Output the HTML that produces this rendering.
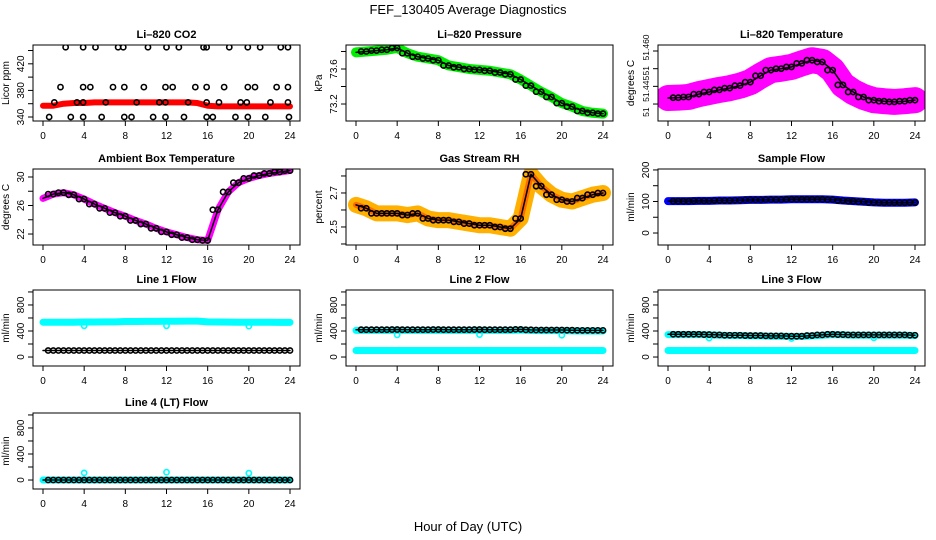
<!DOCTYPE html>
<html><head><meta charset="utf-8"><style>
html,body{margin:0;padding:0;background:#fff;}
svg{display:block;font-family:"Liberation Sans",Arial,sans-serif;}
</style></head><body>
<svg id="c" width="936" height="540" viewBox="0 0 936 540">
<text x="468" y="14" text-anchor="middle" font-size="13">FEF_130405  Average Diagnostics</text>
<text x="468" y="531" text-anchor="middle" font-size="13">Hour of Day (UTC)</text>
</svg>
<script>
const hours = [0,1,2,3,4,5,6,7,8,9,10,11,12,13,14,15,16,17,18,19,20,21,22,23,24];
const xTicks = [0,4,8,12,16,20,24];
// CO2
const co2Band = [357,357,360,361,361,362,362,362,362,362,362,362,362,362,362,361,357,356,356,356,356,356,356,356,356];
const co2PtT = [2.2,3.9,5.1,7.3,7.8,10.2,12,13.2,15.6,15.9,18.1,19.9,21.1,23.1,23.8,
 1.7,3.9,4.6,6.8,7.9,9.8,11.9,12.6,14.8,15.9,17.6,19.9,20.6,22.7,23.8,
 1.1,3.3,3.9,6.1,9.1,11.3,11.9,14.1,15.9,17.1,19.2,19.8,22.1,23.8,
 0.6,2.7,3.9,5.7,7.9,8.6,10.7,11.9,13.7,15.9,16.5,18.7,19.9,21.6,23.9];
const co2PtV = [445,445,445,445,445,445,445,445,445,445,445,445,445,445,445,
 385,385,385,385,385,385,385,385,385,385,385,385,385,385,385,
 362,362,362,362,362,362,362,362,362,362,362,362,362,362,
 340,340,340,340,340,340,340,340,340,340,340,340,340,340,340];
// Pressure
const pres = [73.79,73.80,73.81,73.82,73.84,73.78,73.74,73.72,73.70,73.64,73.62,73.60,73.59,73.58,73.56,73.54,73.48,73.41,73.34,73.28,73.21,73.17,73.12,73.10,73.09];
// Li-820 temperature
const ltemp = [51.4417,51.4418,51.4420,51.4428,51.4434,51.4440,51.4445,51.4452,51.4462,51.4480,51.4496,51.4500,51.4505,51.4515,51.4524,51.4519,51.4496,51.4454,51.4434,51.4420,51.4411,51.4408,51.4406,51.4408,51.4411];
const ltempTicks = [51.440,51.445,51.450,51.455];
const ltempLabels = ['51','51.445','51','51.460'];
const ltempLabelAt = [51.4377,51.4443,51.4494,51.4560];
// Ambient
const amb = [27.0,27.6,27.8,27.5,26.9,26.2,25.6,25.0,24.5,23.9,23.4,22.8,22.3,21.9,21.5,21.2,21.1,25.4,27.9,29.2,29.8,30.2,30.5,30.7,30.9];
// RH
const rh = [2.63,2.61,2.58,2.58,2.58,2.57,2.58,2.55,2.54,2.54,2.53,2.52,2.51,2.51,2.50,2.49,2.55,2.81,2.74,2.69,2.66,2.65,2.67,2.69,2.70];
// Sample flow
const sflow = [101,101,101,102,102,103,103,104,105,105,106,106,107,107,107,107,106,103,101,99,97,96,96,96,97];
// Line flows
const l1cyan = [535,535,535,535,538,538,540,540,545,545,548,548,550,550,552,552,540,538,536,535,535,535,535,532,532];
const l1black = [100,100,100,100,100,100,100,100,100,100,100,100,100,100,100,100,100,100,100,100,100,100,100,100,100];
const l1out = [480,480,475];
const l2cyan = [100,100,100,100,100,100,100,100,100,100,100,100,100,100,100,100,100,100,100,100,100,100,100,100,100];
const l2cyanHi = [410,410,410,410,412,410,410,410,412,410,410,410,412,410,410,410,415,408,405,405,405,402,400,400,400];
const l2black = [420,420,420,420,422,420,420,420,422,420,420,420,422,420,420,420,425,418,415,415,415,412,410,410,410];
const l2out = [340,345,335];
const l3cyan = [100,100,100,100,100,100,100,100,100,100,100,100,100,100,100,100,100,100,100,100,100,100,100,100,100];
const l3cyanHi = [345,345,345,345,340,335,330,330,325,325,320,320,315,315,325,335,345,340,335,335,335,335,335,335,330];
const l3black = [350,350,350,350,345,340,335,335,330,330,325,325,320,320,330,340,350,345,340,340,340,340,340,340,335];
const l3out = [290,285,295];
const l4cyan = [0,0,0,0,0,0,0,0,0,0,0,0,0,0,0,0,0,0,0,0,0,0,0,0,0];
const l4black = [0,0,0,0,0,0,0,0,0,0,0,0,0,0,0,0,0,0,0,0,0,0,0,0,0];
const l4out = [110,120,105];
const outT = [4,12,20];

const NS = "http://www.w3.org/2000/svg";
const svg = document.getElementById('c');
function mk(tag, attrs, parent){
  const e = document.createElementNS(NS, tag);
  for (const k in attrs) e.setAttribute(k, attrs[k]);
  (parent||svg).appendChild(e);
  return e;
}
const colLeft = [33,346,658];
const rowTop = [45,169,290,413];
const BW = 267, BH = 76;

function panel(o){
  const L = colLeft[o.col], T = rowTop[o.row];
  const g = mk('g', {});
  
  
  const x = h => L + 10 + h * (247/24);
  const y = v => T + BH - (v - o.ymin) / (o.ymax - o.ymin) * BH;
  const cp = mk('clipPath', {id: 'cp' + o.name}, g);
  mk('rect', {x: L, y: T, width: BW, height: BH}, cp);
  const plot = mk('g', {'clip-path': 'url(#cp' + o.name + ')'}, g);
  o.draw(plot, x, y);
  const box = mk('rect', {x: L, y: T, width: BW, height: BH, fill: 'none', stroke: '#000', 'stroke-width': 1}, g);
  
  
  const t = mk('text', {x: L + BW/2, y: T - 7, 'text-anchor': 'middle', 'font-size': 11, 'font-weight': 'bold'}, g);
  t.textContent = o.title;
  
  
  const B = T + BH;
  xTicks.forEach(h => {
    mk('line', {x1: x(h), x2: x(h), y1: B, y2: B + 5, stroke: '#000'}, g);
    const tl = mk('text', {x: x(h), y: B + 18, 'text-anchor': 'middle', 'font-size': 10}, g);
    tl.textContent = h;
    
    
  });
  o.ticks.forEach((v, i) => {
    mk('line', {x1: L - 5, x2: L, y1: y(v), y2: y(v), stroke: '#000'}, g);
    if (o.labels[i]) {
      const ly = o.labelAt ? y(o.labelAt[i]) : y(v);
      const yl = mk('text', {x: 0, y: 0, 'text-anchor': 'middle', 'font-size': o.labelAt ? 8.5 : 10, transform: 'translate(' + (L - 9) + ',' + ly + ') rotate(-90)'}, g);
      yl.textContent = o.labels[i];
      
      
    }
  });
  const yt = mk('text', {x: 0, y: 0, 'text-anchor': 'middle', 'font-size': 10, transform: 'translate(' + (L - 24) + ',' + (T + BH/2) + ') rotate(-90)'}, g);
  yt.textContent = o.ylab;
  
  
}
function band(p, x, y, vals, color, w, name){
  const e = mk('polyline', {points: vals.map((v,i)=>x(hours[i])+','+y(v)).join(' '), fill:'none', stroke: color, 'stroke-width': w, 'stroke-linejoin':'round', 'stroke-linecap':'round'}, p);
  
  
}
function pts(p, x, y, ts, vals, color, name){
  ts.forEach((t,i)=>{
    const c = mk('circle', {cx: x(t), cy: y(vals[i]), r: 2.6, fill:'none', stroke: color, 'stroke-width': 1.6}, p);
    
    
  });
}
function chain(p, x, y, vals, name){
  band(p, x, y, vals.slice(0), '#000', 1.5, name + '-line');
  pts(p, x, y, hours.slice(1).map(h=>h-0.5), vals.slice(1), '#000', name);
  pts(p, x, y, hours.slice(1), vals.slice(1), '#000', name);
}

panel({name:'co2-panel', col:0, row:0, title:'Li–820 CO2', ylab:'Licor ppm', ymin:334, ymax:448.3,
  ticks:[340,360,380,400,420,440], labels:['340','','380','','420',''],
  draw:(p,x,y)=>{ band(p,x,y,co2Band,'#f00',6,'co2-band'); pts(p,x,y,co2PtT,co2PtV,'#000','co2-point'); }});
panel({name:'pressure-panel', col:1, row:0, title:'Li–820 Pressure', ylab:'kPa', ymin:73.006, ymax:73.874,
  ticks:[73.2,73.4,73.6,73.8], labels:['73.2','','73.6',''],
  draw:(p,x,y)=>{ band(p,x,y,pres,'#0e0',10,'pressure-band'); chain(p,x,y,pres,'pressure-point'); }});
panel({name:'li820-temp-panel', col:2, row:0, title:'Li–820 Temperature', ylab:'degrees C', ymin:51.4352, ymax:51.4567,
  ticks:ltempTicks, labels:ltempLabels, labelAt:ltempLabelAt,
  draw:(p,x,y)=>{ band(p,x,y,ltemp,'#f0f',26,'li820-temp-band'); chain(p,x,y,ltemp,'li820-temp-point'); }});
panel({name:'ambient-panel', col:0, row:1, title:'Ambient Box Temperature', ylab:'degrees C', ymin:20.46, ymax:31.12,
  ticks:[22,24,26,28,30], labels:['22','','26','','30'],
  draw:(p,x,y)=>{ band(p,x,y,amb,'#f0f',7,'ambient-band'); chain(p,x,y,amb,'ambient-point'); }});
panel({name:'rh-panel', col:1, row:1, title:'Gas Stream RH', ylab:'percent', ymin:2.394, ymax:2.841,
  ticks:[2.4,2.5,2.6,2.7,2.8], labels:['','2.5','','2.7',''],
  draw:(p,x,y)=>{ band(p,x,y,rh,'#ffb000',16,'rh-band'); band(p,x,y,rh,'#ff6a00',6,'rh-band-core'); chain(p,x,y,rh,'rh-point'); }});
panel({name:'sample-flow-panel', col:2, row:1, title:'Sample Flow', ylab:'ml/min', ymin:-38, ymax:203,
  ticks:[0,50,100,150,200], labels:['0','','100','','200'],
  draw:(p,x,y)=>{ band(p,x,y,sflow,'#00f',8,'sample-flow-band'); chain(p,x,y,sflow,'sample-flow-point'); }});
const flowTicks = [0,200,400,600,800,1000], flowLabels = ['0','','400','','800',''];
function flowPanel(name,col,row,title,cyan,black,out,cyanHi){
  panel({name, col, row, title, ylab:'ml/min', ymin:-138, ymax:1030, ticks:flowTicks, labels:flowLabels,
    draw:(p,x,y)=>{ band(p,x,y,cyan,'#0ff',7,'cyan-series'); if (cyanHi) band(p,x,y,cyanHi,'#0ff',7,'cyan-series-upper'); pts(p,x,y,outT,out,'#0ff','cyan-outlier'); chain(p,x,y,black,'black-series'); }});
}
flowPanel('line1-flow-panel',0,2,'Line 1 Flow',l1cyan,l1black,l1out,null);
flowPanel('line2-flow-panel',1,2,'Line 2 Flow',l2cyan,l2black,l2out,l2cyanHi);
flowPanel('line3-flow-panel',2,2,'Line 3 Flow',l3cyan,l3black,l3out,l3cyanHi);
flowPanel('line4-flow-panel',0,3,'Line 4 (LT) Flow',l4cyan,l4black,l4out,null);
</script>
</body></html>
